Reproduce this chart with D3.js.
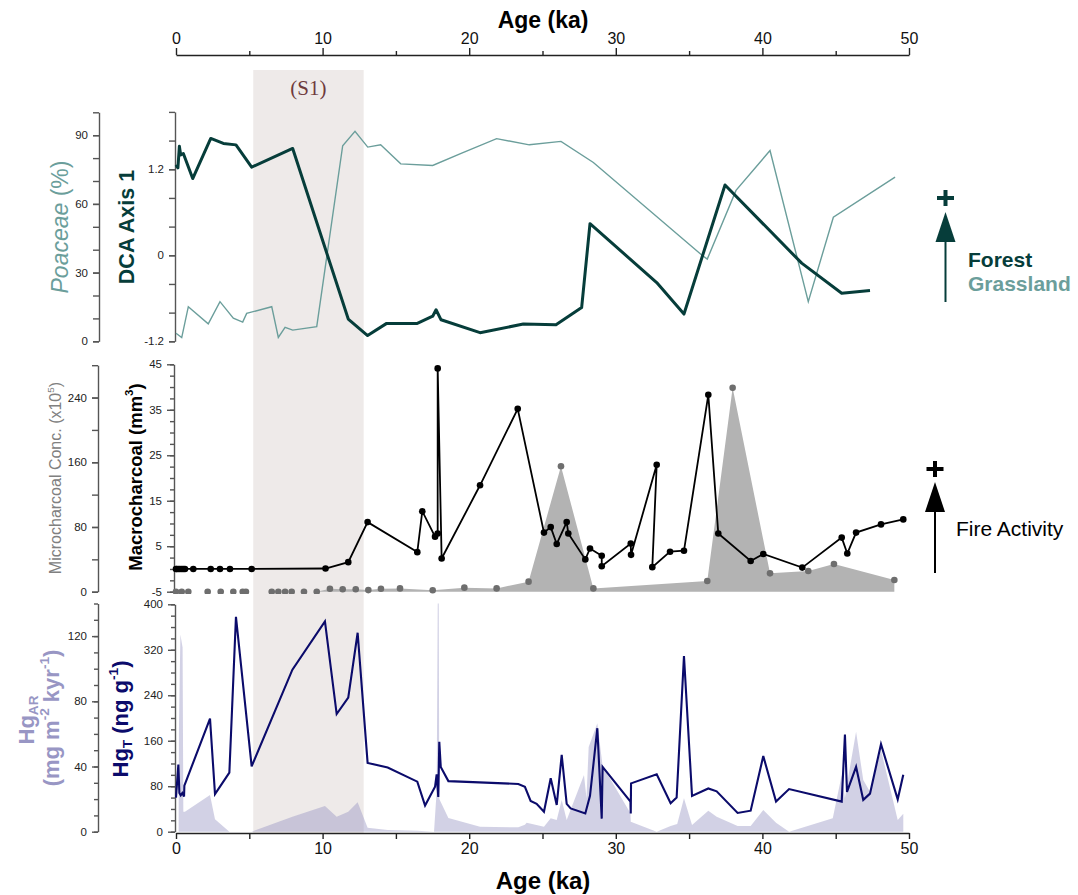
<!DOCTYPE html>
<html><head><meta charset="utf-8">
<script src="https://cdn.jsdelivr.net/npm/d3@7"></script>
<style>body{margin:0;background:#fff;} text{font-family:"Liberation Sans",Arial,Helvetica,sans-serif;}</style>
</head><body>
<script>
// ---------------- DATA ----------------
const xTicksMajor = [0,10,20,30,40,50];
const xTicksMinor = [5,15,25,35,45];
const s1Band = [5.27, 12.8];

const dcaAge = [0,0.13,0.23,0.32,0.5,1.14,2.37,3.23,4.09,5.16,7.96,11.75,13.07,14.37,16.46,17.51,17.74,18.08,20.74,23.69,25.92,27.67,28.24,32.79,34.65,37.45,42.68,45.41,47.34];
const dcaVal = [1.26,1.22,1.52,1.40,1.42,1.07,1.63,1.56,1.54,1.23,1.49,-0.89,-1.12,-0.95,-0.95,-0.85,-0.76,-0.90,-1.08,-0.96,-0.97,-0.73,0.44,-0.38,-0.82,0.98,-0.11,-0.53,-0.49];

const poaAge = [0,0.39,0.84,2.2,3.0,3.91,4.55,4.82,6.53,6.98,7.44,7.96,9.6,11.37,12.21,13.08,13.96,15.33,17.51,19.49,21.87,24.1,26.26,28.47,35.86,36.24,38.2,40.52,43.13,44.84,49.05];
const poaVal = [3.5,1.6,15.1,7.6,17.3,10.1,8.4,12.2,15.1,1.7,6.1,4.9,6.4,85.4,91.7,84.8,85.8,77.5,76.8,82.2,88.5,85.8,87.3,78.1,37.7,35.9,65.9,83.3,17.3,54.2,71.7];

const macroAge = [0,0.05,0.16,0.27,0.39,0.5,0.61,1.18,2.37,3.0,3.68,5.16,10.2,11.75,13.07,16.46,16.8,17.67,17.85,17.85,18.12,20.74,23.31,25.1,25.56,25.97,26.65,26.76,27.92,28.24,29.04,29.04,31.02,31.04,32.79,32.49,33.7,34.65,36.31,36.99,39.2,40.06,42.72,45.41,45.79,46.39,48.09,49.61];
const macroVal = [0,0,0,0,0,0,0,0,0,0,0,0,0.1,1.5,10.3,3.7,12.7,7.1,7.8,44.1,2.3,18.4,35.2,8.0,9.2,5.5,10.3,7.8,2.1,4.5,2.9,0.6,5.6,3.1,22.9,0.4,3.8,4.0,38.3,7.8,1.75,3.3,0.3,6.9,3.4,8.0,9.8,10.9];

const microAge = [0,0.39,0.84,2.16,3.05,3.91,4.55,4.77,6.53,6.98,7.44,7.89,8.73,9.6,10.5,11.37,12.26,13.12,13.98,15.28,17.51,19.67,21.87,24.05,26.26,28.47,36.24,37.97,40.52,43.13,44.88,49.0];
const microVal = [0,0,0,0,0,0,0,0,0,0,0,0,0,0,3.7,3,3,2,3.7,4.1,1.7,5,4.1,12.4,155,4.1,13.2,252,22.7,25.6,34.2,14.5];

const hgtAge = [0,0.16,0.23,0.32,0.43,0.55,0.57,2.32,2.66,3.64,4.09,5.16,7.94,10.16,10.96,11.75,12.39,13.07,14.44,16.46,16.99,17.67,17.78,17.89,17.96,18.06,18.58,23.35,23.8,24.19,24.6,25.1,25.56,25.97,26.31,26.65,26.92,27.92,28.24,28.74,29.04,29.1,31.0,31.02,31.04,32.79,33.74,34.15,34.65,35.2,36.31,36.88,38.31,39.2,40.06,40.93,41.82,45.41,45.63,45.77,46.39,46.88,47.34,48.09,49.23,49.61];
const hgtVal = [60,118,68,64,68,62,81,199,66,104,378,115,285,370,207,236,350,121,113,88,46,79,101,61,158,114,89,84,79,54,49,35,94,47,135,49,41,32,63,182,23,114,53,32,85,101,50,60,309,63,76,71,33,37,133,53,75,53,171,70,114,56,67,154,57,100];

const hgarAge = [0,0.18,0.2,0.3,0.45,0.5,0.61,2.32,2.66,3.64,5.16,7.94,10.16,10.96,11.75,12.39,13.07,14.44,16.46,17.6,17.78,17.86,17.92,17.96,18.58,20.74,23.35,23.8,23.92,25.1,25.56,25.97,26.31,26.65,27.83,28.0,28.15,28.74,29.1,31.0,31.02,32.79,33.74,34.19,34.65,35.2,36.31,36.88,38.31,39.2,40.06,40.93,41.82,44.8,45.41,45.63,45.86,46.39,46.88,47.34,48.09,49.23,49.61,49.61];
const hgarVal = [0,0,63,121,113,12.3,12.3,22.5,7.6,0,0,9.2,15.8,9.2,12.3,18,2.5,1,0.6,0,25,150,150,20,8.4,3,2.7,4.3,5.5,3,8.2,7.2,19.4,7.2,34.8,20.5,52,66.5,40.3,11.3,6.1,0,3.5,4.7,20.5,4.1,12.9,9.2,3.5,3.5,13.3,5.5,0,8.2,34.8,20.5,33.7,61.3,31.7,24.5,50.1,7.2,11,0];

// ---------------- LAYOUT ----------------
const W = 1078, H = 895;
const svg = d3.select("body").append("svg").attr("width", W).attr("height", H);
const x = d3.scaleLinear().domain([0,50]).range([176,909]);

const yDca = d3.scaleLinear().domain([-1.2,2.0]).range([341.3,111.9]);
const yPoa = d3.scaleLinear().domain([0,100]).range([341.3,112.3]);
const yMacro = d3.scaleLinear().domain([-5,45]).range([591.7,364.3]);
const yMicro = d3.scaleLinear().domain([0,280]).range([591.7,365.2]);
const yHgT = d3.scaleLinear().domain([0,400]).range([831.7,604.3]);
const yHgAR = d3.scaleLinear().domain([0,140]).range([831.7,603.5]);

const defs = svg.append("defs");
function clip(id, y0, y1){
  defs.append("clipPath").attr("id", id).append("rect")
    .attr("x", 170).attr("y", y0).attr("width", 760).attr("height", y1 - y0);
}
clip("c1", 105, 345); clip("c2", 362, 594); clip("c3", 603.5, 833);

// S1 band
svg.append("rect").attr("x", x(s1Band[0])).attr("y", 70)
  .attr("width", x(s1Band[1]) - x(s1Band[0])).attr("height", 833 - 70)
  .attr("fill", "#eeeae9");
svg.append("text").attr("x", (x(s1Band[0]) + x(s1Band[1]))/2).attr("y", 95)
  .attr("text-anchor","middle").attr("fill","#6e3a3c")
  .style("font-family","'Liberation Serif','DejaVu Serif',serif").style("font-size","21px").text("(S1)");

// ---------------- AXES ----------------
function range(a,b,s){ const r=[]; for(let v=a; v<=b+1e-9; v+=s) r.push(+v.toFixed(4)); return r; }
function leftAxis(xPos, scale, minorVals, majorVals, majorSize, minorSize, pad){
  const g = svg.append("g").attr("transform", `translate(${xPos},0)`);
  g.call(d3.axisLeft(scale).tickValues(minorVals).tickSize(minorSize).tickSizeOuter(0).tickFormat(""));
  const g2 = svg.append("g").attr("transform", `translate(${xPos},0)`);
  g2.call(d3.axisLeft(scale).tickValues(majorVals).tickSize(majorSize).tickSizeOuter(0).tickPadding(pad).tickFormat(d=>d));
  [g,g2].forEach(gg=>{
    gg.selectAll("path,line").attr("stroke","#555").attr("stroke-width",1.4);
    gg.selectAll("text").style("font-size","11.5px").attr("fill","#222");
  });
  g2.select(".domain").remove();
}
// top panel
leftAxis(99, yPoa, range(0,100,10), [0,30,60,90], 6, 6, 5);
leftAxis(175, yDca, range(-1.2,2.0,0.4), [-1.2,0,1.2], 6, 6, 5);
// middle
leftAxis(98, yMicro, range(0,280,40), [0,80,160,240], 6, 6, 5);
leftAxis(174, yMacro, range(-5,45,2.5), [-5,5,15,25,35,45], 7, 4, 5);
// bottom
leftAxis(98, yHgAR, range(0,140,10), [0,40,80,120], 6, 4, 5);
leftAxis(175, yHgT, range(0,400,20), [0,80,160,240,320,400], 7, 4, 5);

// x axes
function xAxis(y, gen, majorSize, minorSize){
  const g = svg.append("g").attr("transform",`translate(0,${y})`);
  g.call(gen(x).tickValues(xTicksMinor).tickSize(minorSize).tickSizeOuter(0).tickFormat(""));
  const g2 = svg.append("g").attr("transform",`translate(0,${y})`);
  g2.call(gen(x).tickValues(xTicksMajor).tickSize(majorSize).tickSizeOuter(0).tickPadding(4).tickFormat(d=>d));
  g2.select(".domain").remove();
  [g,g2].forEach(gg=>{
    gg.selectAll("path,line").attr("stroke","#222").attr("stroke-width",1.4);
    gg.selectAll("text").style("font-size","16px").attr("fill","#111");
  });
}
xAxis(55, d3.axisTop, 7, 4);
xAxis(833, d3.axisBottom, 6, 6);
svg.append("text").attr("x", 543).attr("y", 28).attr("text-anchor","middle")
  .style("font-size","23px").style("font-weight","bold").attr("fill","#000").text("Age (ka)");
svg.append("text").attr("x", 543).attr("y", 889).attr("text-anchor","middle")
  .style("font-size","24px").style("font-weight","bold").attr("fill","#000").text("Age (ka)");

// ---------------- AXIS TITLES ----------------
function vlabel(cx, cy, parts, opts){
  const t = svg.append("text").attr("transform",`translate(${cx},${cy}) rotate(-90)`)
    .attr("text-anchor","middle").attr("dominant-baseline","middle")
    .style("font-size", opts.size + "px").style("font-weight", opts.weight || "normal")
    .attr("fill", opts.color);
  let cur = 0;
  parts.forEach(p=>{
    const sp = t.append("tspan").text(p.t);
    const target = p.shift || 0;
    sp.attr("dy", target - cur); cur = target;
    if (p.small) sp.style("font-size", (opts.size*0.62) + "px");
    if (p.italic) sp.style("font-style","italic");
  });
}
vlabel(62, 227, [{t:"Poaceae", italic:true},{t:" (%)"}], {size:23, color:"#6b9e9b"});
vlabel(128, 227, [{t:"DCA Axis 1"}], {size:21.5, weight:"bold", color:"#063d3a"});
vlabel(57, 478, [{t:"Microcharcoal Conc. (x10"},{t:"5", small:true, shift:-6},{t:")", shift:0}], {size:16, color:"#808080"});
vlabel(137, 477, [{t:"Macrocharcoal (mm"},{t:"3", small:true, shift:-7},{t:")", shift:0}], {size:18.5, weight:"bold", color:"#000"});
vlabel(122, 719, [{t:"Hg"},{t:"T", small:true, shift:6},{t:" (ng g", shift:0},{t:"-1", small:true, shift:-8},{t:")", shift:0}], {size:22, weight:"bold", color:"#0b0b6b"});
vlabel(28, 720, [{t:"Hg"},{t:"AR", small:true, shift:6}], {size:22, weight:"bold", color:"#9896c4"});
vlabel(53, 718, [{t:"(mg m"},{t:"-2", small:true, shift:-8},{t:" kyr", shift:0},{t:"-1", small:true, shift:-8},{t:")", shift:0}], {size:22, weight:"bold", color:"#9896c4"});

// ---------------- MARKS ----------------
// Panel 1
const p1 = svg.append("g").attr("clip-path","url(#c1)");
p1.append("path").datum(d3.zip(poaAge, poaVal))
  .attr("d", d3.line().x(d=>x(d[0])).y(d=>yPoa(d[1])))
  .attr("fill","none").attr("stroke","#6b9e9b").attr("stroke-width",1.4);
p1.append("path").datum(d3.zip(dcaAge, dcaVal))
  .attr("d", d3.line().x(d=>x(d[0])).y(d=>yDca(d[1])))
  .attr("fill","none").attr("stroke","#063d3a").attr("stroke-width",3).attr("stroke-linejoin","round");

// Panel 2
const p2 = svg.append("g").attr("clip-path","url(#c2)");
const microData = d3.zip(microAge, microVal);
p2.append("path").datum(microData)
  .attr("d", d3.area().x(d=>x(d[0])).y0(yMicro(0)).y1(d=>yMicro(d[1])))
  .attr("fill","#b3b3b3");
p2.selectAll("circle.mi").data(microData).join("circle").attr("class","mi")
  .attr("cx", d=>x(d[0])).attr("cy", d=>yMicro(d[1])).attr("r",3.3).attr("fill","#6e6e6e");
const macroData = d3.zip(macroAge, macroVal);
p2.append("path").datum(macroData)
  .attr("d", d3.line().x(d=>x(d[0])).y(d=>yMacro(d[1])))
  .attr("fill","none").attr("stroke","#000").attr("stroke-width",1.8);
p2.selectAll("circle.ma").data(macroData).join("circle").attr("class","ma")
  .attr("cx", d=>x(d[0])).attr("cy", d=>yMacro(d[1])).attr("r",3.3).attr("fill","#000");

// Panel 3
const p3 = svg.append("g").attr("clip-path","url(#c3)");
p3.append("path").datum(d3.zip(hgarAge, hgarVal))
  .attr("d", d3.area().x(d=>x(d[0])).y0(yHgAR(0)).y1(d=>yHgAR(d[1])))
  .attr("fill","#8e8bbf").attr("fill-opacity",0.4);
p3.append("path").datum(d3.zip(hgtAge, hgtVal))
  .attr("d", d3.line().x(d=>x(d[0])).y(d=>yHgT(d[1])))
  .attr("fill","none").attr("stroke","#0b0b6b").attr("stroke-width",2.1);

// ---------------- RIGHT ANNOTATIONS ----------------
function arrow(cx, yTop, yBase, yBottom, plusY, color){
  svg.append("line").attr("x1",cx).attr("x2",cx).attr("y1",yBottom).attr("y2",yBase)
    .attr("stroke",color).attr("stroke-width",2);
  svg.append("path").attr("d",`M${cx-10},${yBase}L${cx+10},${yBase}L${cx},${yTop}Z`).attr("fill",color);
  svg.append("path").attr("d",`M${cx-8.5},${plusY}H${cx+8.5}M${cx},${plusY-8}V${plusY+8}`)
    .attr("stroke",color).attr("stroke-width",4);
}
arrow(945.5, 212, 242, 302, 198, "#063d3a");
arrow(935, 482, 512, 573, 469, "#000");
svg.append("text").attr("x",968).attr("y",267).style("font-size","21px").style("font-weight","bold").attr("fill","#063d3a").text("Forest");
svg.append("text").attr("x",968).attr("y",291).style("font-size","21px").style("font-weight","bold").attr("fill","#6b9e9b").text("Grassland");
svg.append("text").attr("x",956).attr("y",536).style("font-size","21px").attr("fill","#000").text("Fire Activity");
</script>
</body></html>
